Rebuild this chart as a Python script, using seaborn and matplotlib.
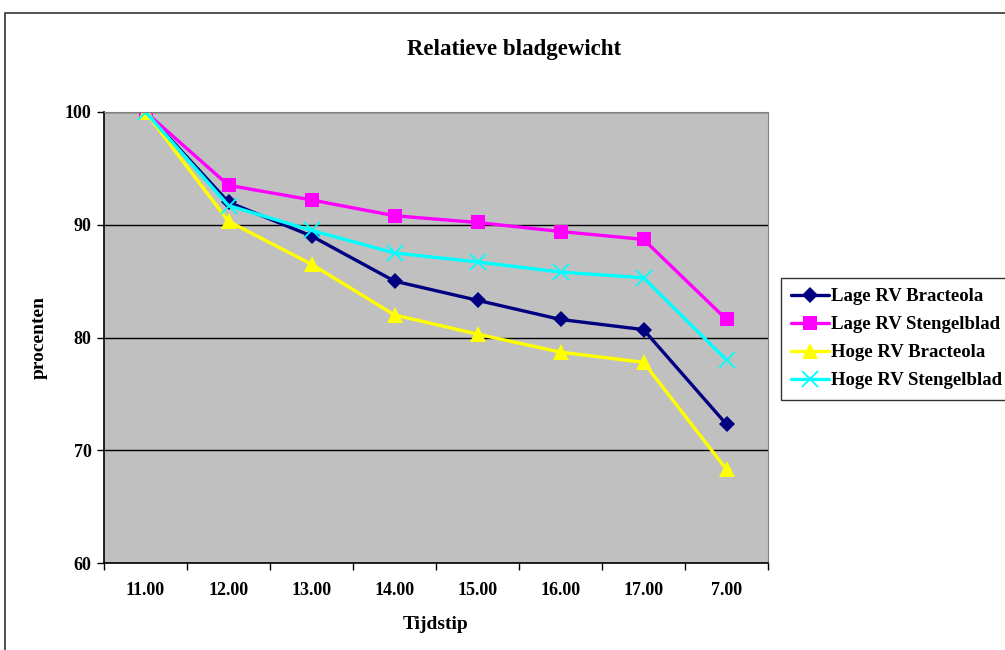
import pandas as pd
import seaborn as sns
import matplotlib.pyplot as plt
from matplotlib.patches import Rectangle

tijdstip = ['11.00', '12.00', '13.00', '14.00', '15.00', '16.00', '17.00', '7.00']
lage_bracteola = [100, 92.0, 89.0, 85.0, 83.3, 81.6, 80.7, 72.3]
lage_stengelblad = [100, 93.5, 92.2, 90.8, 90.2, 89.4, 88.7, 81.6]
hoge_bracteola = [100, 90.3, 86.5, 82.0, 80.3, 78.7, 77.8, 68.3]
hoge_stengelblad = [100, 91.7, 89.5, 87.5, 86.7, 85.8, 85.3, 78.0]

series = {
    'Lage RV Bracteola': lage_bracteola,
    'Lage RV Stengelblad': lage_stengelblad,
    'Hoge RV Bracteola': hoge_bracteola,
    'Hoge RV Stengelblad': hoge_stengelblad,
}
rows = []
for naam, waarden in series.items():
    for i, w in enumerate(waarden):
        rows.append({'pos': i, 'procenten': w, 'reeks': naam})
df = pd.DataFrame(rows)

kleuren = {'Lage RV Bracteola': '#000080', 'Lage RV Stengelblad': '#FF00FF',
           'Hoge RV Bracteola': '#FFFF00', 'Hoge RV Stengelblad': '#00FFFF'}
markers = {'Lage RV Bracteola': 'D', 'Lage RV Stengelblad': 's',
           'Hoge RV Bracteola': '^', 'Hoge RV Stengelblad': 'X'}
msize = {'Lage RV Bracteola': 8, 'Lage RV Stengelblad': 10,
         'Hoge RV Bracteola': 11, 'Hoge RV Stengelblad': 11}

sns.set_style('white')
plt.rcParams['font.family'] = ['Liberation Serif', 'DejaVu Serif']
plt.rcParams['font.weight'] = 'bold'
for k in ['text.color', 'axes.labelcolor', 'xtick.color', 'ytick.color']:
    plt.rcParams[k] = 'black'

fig = plt.figure(figsize=(10.05, 6.5), dpi=100)
ax = fig.add_axes([104 / 1005, 1 - 563 / 650, 664 / 1005, 451 / 650])
ax.set_facecolor('#C0C0C0')

# outer chart frame (runs off the right/bottom edge like the original)
fig.patches.append(Rectangle((5 / 1005, -0.1), 1.2, 1 - 13 / 650 + 0.1,
                             transform=fig.transFigure, fill=False,
                             edgecolor='#333333', lw=1.2, zorder=0))

sns.lineplot(data=df, x='pos', y='procenten', hue='reeks', style='reeks',
             palette=kleuren, markers=markers, dashes=False, lw=2.4,
             ax=ax, legend=False)
for line, naam in zip(ax.lines, series.keys()):
    line.set_markersize(msize[naam])
    line.set_markeredgecolor(kleuren[naam])
    if naam == 'Hoge RV Stengelblad':
        # thin cross like the original
        line.set_marker('x')
        line.set_markeredgewidth(1.3)
    else:
        line.set_markeredgewidth(0)

ax.set_xlim(-0.5, 7.5)
ax.set_ylim(60, 100)
ax.set_yticks([60, 70, 80, 90, 100])
ax.yaxis.grid(True, color='black', lw=1)
ax.set_axisbelow(True)
ax.set_xticks(range(len(tijdstip)))
ax.set_xticklabels(tijdstip, fontsize=13, fontweight='bold')
ax.set_xticks([i - 0.5 for i in range(len(tijdstip) + 1)], minor=True)
ax.tick_params(axis='x', which='major', bottom=False, length=0, pad=14)
ax.tick_params(axis='x', which='minor', bottom=True, length=5, width=1,
               direction='out', color='black')
ax.tick_params(axis='y', left=True, length=5, width=1, direction='out',
               labelsize=13, pad=4, color='black')
for lbl in ax.get_yticklabels():
    lbl.set_fontweight('bold')

for s in ['top', 'right']:
    ax.spines[s].set_color('#808080')
for s in ['left', 'bottom']:
    ax.spines[s].set_color('black')
    ax.spines[s].set_linewidth(1.2)

ax.set_xlabel('Tijdstip', fontsize=14, fontweight='bold', labelpad=12)
ax.set_ylabel('procenten', fontsize=14, fontweight='bold', labelpad=12)
fig.text(514 / 1005, 1 - 50 / 650, 'Relatieve bladgewicht', ha='center',
         va='center', fontsize=16.5, fontweight='bold')

leg = fig.legend(handles=ax.lines[:4], labels=list(series.keys()),
                 loc='upper left', bbox_to_anchor=(781 / 1005, 1 - 278 / 650),
                 frameon=True, fancybox=False, edgecolor='black', fontsize=13.5,
                 handlelength=2.0, borderpad=0.55, labelspacing=0.58,
                 handletextpad=0.1, borderaxespad=0)
leg.get_frame().set_linewidth(1)
for t in leg.get_texts():
    t.set_fontweight('bold')

fig.savefig('out.png', dpi=100)
